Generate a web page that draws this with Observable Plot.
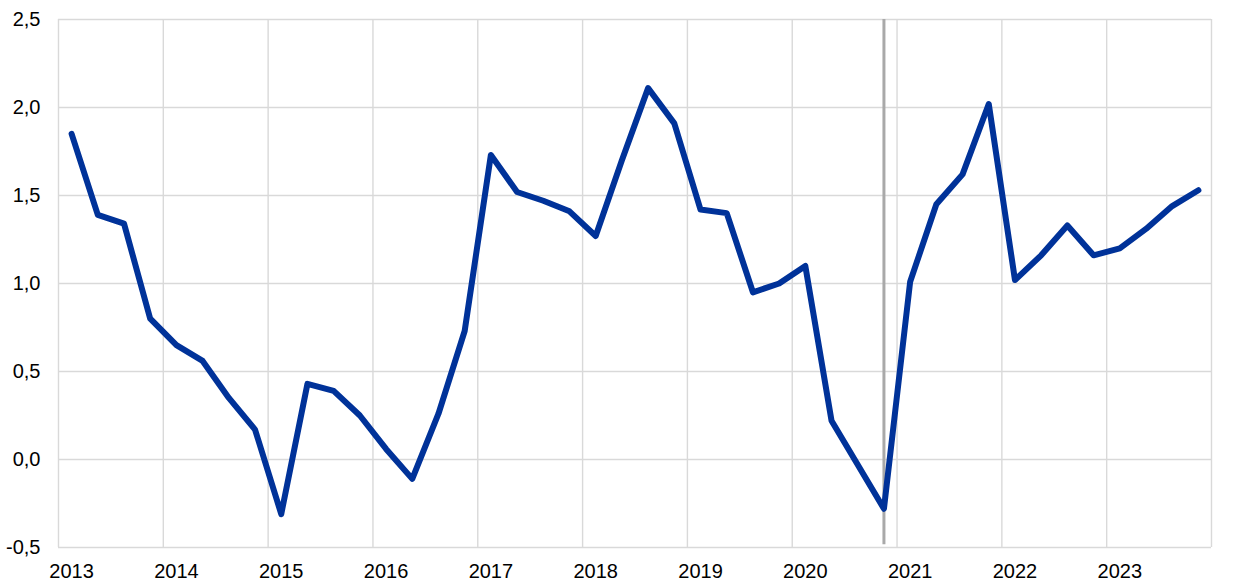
<!DOCTYPE html>
<html>
<head>
<meta charset="utf-8">
<script src="https://cdn.jsdelivr.net/npm/d3@7"></script>
<script src="https://cdn.jsdelivr.net/npm/@observablehq/plot@0.6"></script>
<style>
  html, body { margin: 0; padding: 0; background: #fff; }
  #chart { width: 1240px; height: 588px; }
  svg { font-family: "Liberation Sans", Arial, sans-serif; }
</style>
</head>
<body>
<div id="chart"></div>
<script>
const quarters = [
  "2013Q1","2013Q2","2013Q3","2013Q4",
  "2014Q1","2014Q2","2014Q3","2014Q4",
  "2015Q1","2015Q2","2015Q3","2015Q4",
  "2016Q1","2016Q2","2016Q3","2016Q4",
  "2017Q1","2017Q2","2017Q3","2017Q4",
  "2018Q1","2018Q2","2018Q3","2018Q4",
  "2019Q1","2019Q2","2019Q3","2019Q4",
  "2020Q1","2020Q2","2020Q3","2020Q4",
  "2021Q1","2021Q2","2021Q3","2021Q4",
  "2022Q1","2022Q2","2022Q3","2022Q4",
  "2023Q1","2023Q2","2023Q3","2023Q4"
];
const values = [
  1.85, 1.39, 1.34, 0.80,
  0.65, 0.56, 0.35, 0.17,
  -0.31, 0.43, 0.39, 0.25,
  0.06, -0.11, 0.26, 0.73,
  1.73, 1.52, 1.47, 1.41,
  1.27, 1.70, 2.11, 1.91,
  1.42, 1.40, 0.95, 1.00,
  1.10, 0.22, -0.03, -0.28,
  1.01, 1.45, 1.62, 2.02,
  1.02, 1.16, 1.33, 1.16,
  1.20, 1.31, 1.44, 1.53
];
const yearLabels = ["2013","2014","2015","2016","2017","2018","2019","2020","2021","2022","2023"];
const yTicks = [-0.5, 0, 0.5, 1.0, 1.5, 2.0, 2.5];
const markerQuarter = "2020Q4";

// quarter string -> decimal year at middle of the quarter
const qx = q => +q.slice(0, 4) + (+q.slice(5) - 1) * 0.25 + 0.125;
const data = quarters.map((q, i) => ({q, x: qx(q), y: values[i]}));
const yearBounds = [...yearLabels.map(Number), +yearLabels[yearLabels.length - 1] + 1];
const labelPos = yearLabels.map(y => +y + 0.125);
const fmtY = d => d.toFixed(1).replace(".", ",");

const chart = Plot.plot({
  width: 1240,
  height: 588,
  marginLeft: 58,
  marginRight: 29,
  marginTop: 19,
  marginBottom: 41,
  style: {fontFamily: "'Liberation Sans', Arial, sans-serif", fontSize: "20px", color: "#000", background: "#fff"},
  x: {domain: [yearBounds[0], yearBounds[yearBounds.length - 1]], axis: null, label: null},
  y: {domain: [-0.5, 2.5], axis: null, label: null},
  marks: [
    Plot.ruleY(yTicks, {stroke: "#d9d9d9", strokeWidth: 1.4}),
    Plot.ruleX(yearBounds, {stroke: "#d9d9d9", strokeWidth: 1.4}),
    Plot.ruleX([qx(markerQuarter)], {y1: 2.5, y2: -0.485, stroke: "#a9a9a9", strokeWidth: 3}),
    Plot.line(data, {x: "x", y: "y", stroke: "#003299", strokeWidth: 6, strokeLinejoin: "round", strokeLinecap: "round"}),
    Plot.axisY(yTicks, {tickSize: 0, tickPadding: 18, tickFormat: fmtY, fontSize: 20, fill: "#000", label: null}),
    Plot.axisX(labelPos, {tickSize: 0, tickPadding: 16, tickFormat: d => String(Math.floor(d)), fontSize: 20, fill: "#000", label: null})
  ]
});
document.getElementById("chart").appendChild(chart);
</script>
</body>
</html>
